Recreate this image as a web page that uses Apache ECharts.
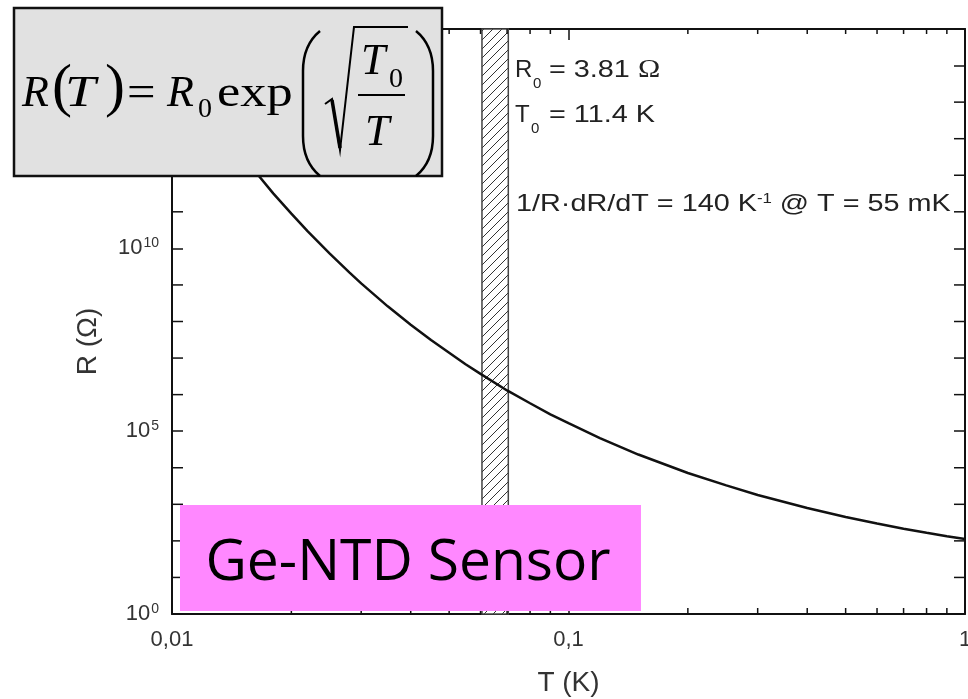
<!DOCTYPE html>
<html>
<head>
<meta charset="utf-8">
<script src="https://cdn.jsdelivr.net/npm/echarts@6/dist/echarts.min.js"></script>
<style>
  html, body { margin: 0; padding: 0; background: #fff; }
  #chart { width: 968px; height: 699px; }
</style>
</head>
<body>
<div id="chart"></div>
<script>
// Ge-NTD thermistor characteristic, R(T) = R0 exp(sqrt(T0/T)), R0 = 3.81 Ω, T0 = 11.4 K
const temperatureK = [0.010, 0.011, 0.012, 0.013, 0.014, 0.015, 0.016, 0.018, 0.020, 0.022,
  0.025, 0.028, 0.030, 0.035, 0.040, 0.045, 0.050, 0.055, 0.060, 0.070, 0.080, 0.090,
  0.10, 0.12, 0.15, 0.20, 0.25, 0.30, 0.40, 0.50, 0.60, 0.70, 0.80, 0.90, 1.0];
const resistanceOhm = [1.8e15, 3.6e14, 9.3e13, 2.8e13, 9.4e12, 3.6e12, 1.5e12, 3.2e11, 8.9e10, 2.9e10,
  7.2e9, 2.2e9, 1.1e9, 2.6e8, 8.2e7, 3.1e7, 1.4e7, 6.8e6, 3.7e6, 1.3e6, 5.8e5, 2.9e5,
  1.65e5, 6.5e4, 2.3e4, 7.2e3, 3.3e3, 1.8e3, 790, 450, 300, 215, 166, 134, 112];

// axis ranges and ticks
const xRange = [0.01, 1];
const yRange = [1, 1e16];
const xTickLabels = { '-2': '0,01', '-1': '0,1', '0': '1' };
const xMinorTicks = [0.02, 0.03, 0.04, 0.05, 0.06, 0.07, 0.08, 0.09,
  0.2, 0.3, 0.4, 0.5, 0.6, 0.7, 0.8, 0.9];
const yMinorTicks = [1e1, 1e2, 1e3, 1e4, 1e6, 1e7, 1e8, 1e9, 1e11, 1e12, 1e13, 1e14];
const yLabelExponents = [0, 5, 10, 15];

// working temperature window (hatched)
const hatchBand = [0.0605, 0.0705];

const AXIS_COLOR = '#111';
const TEXT_COLOR = '#333';
const NOTE_COLOR = '#222';
const SANS = 'Liberation Sans, Arial, sans-serif';
const SERIF = 'Liberation Serif, Times New Roman, serif';

function hatchPattern() {
  const s = 9;
  const c = document.createElement('canvas');
  c.width = s; c.height = s;
  const g = c.getContext('2d');
  g.fillStyle = '#fff';
  g.fillRect(0, 0, s, s);
  g.strokeStyle = '#333';
  g.lineWidth = 1;
  g.beginPath();
  g.moveTo(0, s); g.lineTo(s, 0);
  g.moveTo(-2, 2); g.lineTo(2, -2);
  g.moveTo(s - 2, s + 2); g.lineTo(s + 2, s - 2);
  g.stroke();
  return c;
}

function supLabel(exp) {
  return '10{e|' + exp + '}';
}

const chart = echarts.init(document.getElementById('chart'), null, { renderer: 'canvas' });

const logX = (pos, extra) => Object.assign({
  type: 'log', logBase: 10, min: xRange[0], max: xRange[1], position: pos,
  axisLine: { show: true, onZero: false, lineStyle: { color: AXIS_COLOR, width: 2 } },
  axisTick: { show: true, inside: true, length: 11, lineStyle: { color: AXIS_COLOR, width: 1.5 } },
  splitLine: { show: false },
  minorTick: { show: false }
}, extra);

const logY = (pos, extra) => Object.assign({
  type: 'log', logBase: 1e5, min: yRange[0], max: yRange[1], position: pos,
  axisLine: { show: true, onZero: false, lineStyle: { color: AXIS_COLOR, width: 2 } },
  axisTick: { show: true, inside: true, length: 11, lineStyle: { color: AXIS_COLOR, width: 1.5 } },
  splitLine: { show: false },
  minorTick: { show: false }
}, extra);

const tickStyle = { stroke: AXIS_COLOR, lineWidth: 1.5 };
const seg = (a, b) => ({ type: 'line', shape: { x1: a[0], y1: a[1], x2: b[0], y2: b[1] }, style: tickStyle });

const pattern = { image: hatchPattern(), repeat: 'repeat' };

function txt(x, y, text, size, family, extra, sx) {
  return {
    type: 'text', x: x, y: y, z: 110, scaleX: sx || 1,
    style: Object.assign({
      text: text, fontSize: size, fontFamily: family, fill: '#000',
      align: 'left', verticalAlign: 'middle'
    }, extra || {})
  };
}

// tall bracket made of two hooks and a straight stem
function bigParen(xOut, xIn, yTop, yBot) {
  const st = { fill: 'none', stroke: '#000', lineWidth: 2.5 };
  return [
    { type: 'bezierCurve', z: 110, shape: { x1: xIn, y1: yTop, cpx1: xOut, cpy1: yTop + 14, x2: xOut, y2: yTop + 40 }, style: st },
    { type: 'line', z: 110, shape: { x1: xOut, y1: yTop + 40, x2: xOut, y2: yBot - 40 }, style: st },
    { type: 'bezierCurve', z: 110, shape: { x1: xOut, y1: yBot - 40, cpx1: xOut, cpy1: yBot - 14, x2: xIn, y2: yBot }, style: st }
  ];
}

const NOTE_SX = 1.2;
const note = (x, y, text, size, extra, sx) =>
  txt(x, y, text, size, SANS, Object.assign({ fill: NOTE_COLOR }, extra || {}), sx || NOTE_SX);
const noteRich = { om: { fontFamily: SERIF, fontSize: 25, fill: NOTE_COLOR },
                   s: { fontFamily: SANS, fontSize: 14, fill: NOTE_COLOR, verticalAlign: 'top' } };

const option = {
  animation: false,
  backgroundColor: '#fff',
  grid: { left: 172, right: 3, top: 29, bottom: 85, containLabel: false, outerBoundsMode: 'none' },
  xAxis: [
    logX('bottom', {
      name: 'T (K)', nameLocation: 'middle', nameGap: 55,
      nameTextStyle: { fontFamily: SANS, fontSize: 28, color: TEXT_COLOR },
      axisLabel: {
        fontFamily: SANS, fontSize: 22, color: TEXT_COLOR, margin: 15,
        formatter: v => xTickLabels[String(Math.round(Math.log10(v)))] || ''
      }
    }),
    logX('top', { axisLabel: { show: false } })
  ],
  yAxis: [
    logY('left', {
      name: 'R (Ω)', nameLocation: 'middle', nameGap: 70, nameRotate: 90,
      nameTextStyle: { fontFamily: SANS, fontSize: 28, color: TEXT_COLOR, padding: [0, 40, 0, 0] },
      axisLabel: {
        fontFamily: SANS, fontSize: 22, color: TEXT_COLOR, margin: 13,
        formatter: v => {
          const e = Math.round(Math.log10(v));
          return yLabelExponents.indexOf(e) >= 0 ? supLabel(e) : '';
        },
        rich: { e: { fontFamily: SANS, fontSize: 14, color: TEXT_COLOR, verticalAlign: 'top', padding: [0, 0, 10, 1] } }
      }
    }),
    logY('right', { axisLabel: { show: false } })
  ],
  series: [
    {
      type: 'custom', name: 'band', xAxisIndex: 0, yAxisIndex: 0, z: 2,
      data: [[hatchBand[0], hatchBand[1]]],
      encode: { x: [0, 1] },
      renderItem: (params, api) => {
        const p0 = api.coord([api.value(0), yRange[1]]);
        const p1 = api.coord([api.value(1), yRange[0]]);
        return {
          type: 'rect',
          shape: { x: p0[0], y: p0[1], width: p1[0] - p0[0], height: p1[1] - p0[1] },
          style: { fill: pattern, stroke: '#444', lineWidth: 1.5 }
        };
      }
    },
    {
      type: 'custom', name: 'xMinor', xAxisIndex: 0, yAxisIndex: 0, z: 3, clip: false,
      data: xMinorTicks.map(v => [v]), encode: { x: 0 },
      renderItem: (params, api) => {
        const v = api.value(0);
        const bot = api.coord([v, yRange[0]]);
        const top = api.coord([v, yRange[1]]);
        return { type: 'group', children: [
          seg(bot, [bot[0], bot[1] - 6]),
          seg(top, [top[0], top[1] + 5])
        ] };
      }
    },
    {
      type: 'custom', name: 'yMinor', xAxisIndex: 0, yAxisIndex: 0, z: 3, clip: false,
      data: yMinorTicks.map(v => [v]), encode: { y: 0 },
      renderItem: (params, api) => {
        const v = api.value(0);
        const l = api.coord([xRange[0], v]);
        const r = api.coord([xRange[1], v]);
        return { type: 'group', children: [
          seg(l, [l[0] + 11, l[1]]),
          seg(r, [r[0] - 11, r[1]])
        ] };
      }
    },
    {
      type: 'line', name: 'R(T)', xAxisIndex: 0, yAxisIndex: 0, z: 5,
      data: temperatureK.map((t, i) => [t, resistanceOhm[i]]),
      showSymbol: false, symbol: 'none', smooth: false,
      lineStyle: { color: '#111', width: 2.5 }
    }
  ],
  graphic: [
    // formula panel
    { type: 'rect', z: 100, shape: { x: 14, y: 8, width: 428, height: 168 },
      style: { fill: '#e1e1e1', stroke: '#111', lineWidth: 2.5 } },
    txt(22, 94, 'R', 44, SERIF, { fontStyle: 'italic' }),
    txt(52, 89, '(', 60, SERIF),
    txt(65, 94, 'T', 44, SERIF, { fontStyle: 'italic' }, 1.25),
    txt(105, 89, ')', 60, SERIF),
    txt(127, 94, '=', 44, SERIF, {}, 1.15),
    txt(167, 94, 'R', 44, SERIF, { fontStyle: 'italic' }),
    txt(198, 110, '0', 28, SERIF),
    txt(217, 94, 'exp', 44, SERIF, {}, 1.19),
    ...bigParen(303, 320, 31, 176),
    ...bigParen(433, 416, 31, 176),
    { type: 'polyline', z: 110, shape: { points: [[325, 104], [332, 99], [340, 150], [354, 27], [408, 27]] },
      style: { fill: 'none', stroke: '#000', lineWidth: 2 } },
    { type: 'line', z: 110, shape: { x1: 332, y1: 100, x2: 340, y2: 148 },
      style: { stroke: '#000', lineWidth: 3.5 } },
    txt(361, 62, 'T', 44, SERIF, { fontStyle: 'italic' }),
    txt(389, 80, '0', 28, SERIF),
    { type: 'line', z: 110, shape: { x1: 358, y1: 95, x2: 405, y2: 95 },
      style: { stroke: '#000', lineWidth: 2 } },
    txt(365, 133, 'T', 44, SERIF, { fontStyle: 'italic' }),

    // fit parameters
    note(515, 70, 'R', 24, {}, 1),
    note(533, 84, '0', 15, {}, 1),
    note(549, 70, '= 3.81 {om|Ω}', 24, { rich: noteRich }),
    note(515, 115, 'T', 24, {}, 1),
    note(531, 129, '0', 15, {}, 1),
    note(549, 115, '= 11.4 K', 24),
    note(516, 204, '1/R·dR/dT = 140 K{s|-1} @ T = 55 mK', 24, { rich: noteRich }),

    // label box
    { type: 'rect', z: 100, shape: { x: 180, y: 505, width: 461, height: 106 },
      style: { fill: '#ff88ff' } },
    txt(408, 564, 'Ge-NTD Sensor', 57, 'Open Sans, Noto Sans, sans-serif', { align: 'center' })
  ]
};

chart.setOption(option);
</script>
</body>
</html>
